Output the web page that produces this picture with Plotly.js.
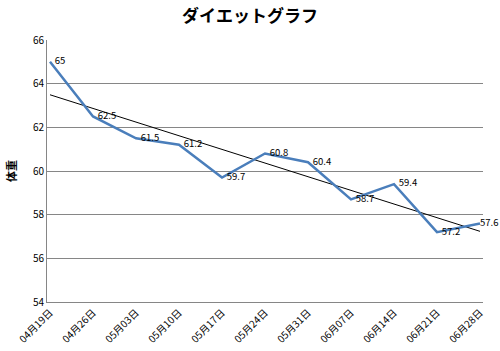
<!DOCTYPE html>
<html><head><meta charset="utf-8">
<script src="https://cdn.plot.ly/plotly-3.0.1.min.js"></script>
<style>html,body{margin:0;padding:0;background:#fff}#chart{width:500px;height:351px}</style>
</head><body><div id="chart"></div>
<script>
const dates = ["04月19日","04月26日","05月03日","05月10日","05月17日","05月24日","05月31日","06月07日","06月14日","06月21日","06月28日"];
const weights = [65, 62.5, 61.5, 61.2, 59.7, 60.8, 60.4, 58.7, 59.4, 57.2, 57.6];

const idx = dates.map((d, i) => i);
const n = weights.length;
const mx = idx.reduce((a, b) => a + b, 0) / n;
const my = weights.reduce((a, b) => a + b, 0) / n;
let sxy = 0, sxx = 0;
idx.forEach((x, i) => { sxy += (x - mx) * (weights[i] - my); sxx += (x - mx) * (x - mx); });
const slope = sxy / sxx, icpt = my - slope * mx;
const trendX = [0, n - 1];
const trendY = trendX.map(x => icpt + slope * x);

const font = "'Noto Sans CJK JP', 'Noto Sans', sans-serif";
Plotly.newPlot('chart', [
  {x: trendX, y: trendY, mode: 'lines', line: {color: '#000', width: 1}, hoverinfo: 'skip'},
  {x: idx, y: weights, mode: 'lines+text',
   text: weights.map((v, i) => (i === n - 1 ? '' : '\u2002') + v), textposition: 'middle right',
   cliponaxis: false,
   textfont: {family: font, size: 9.5, color: '#000'}, line: {color: '#4A7EBB', width: 2.5}}
], {
  width: 500, height: 351,
  margin: {l: 47, r: 17, t: 40, b: 49},
  paper_bgcolor: '#fff', plot_bgcolor: '#fff',
  showlegend: false,
  title: {text: '<b>ダイエットグラフ</b>', font: {family: font, size: 17, color: '#000'}, x: 0.5, xanchor: 'center', y: 0.955, yanchor: 'middle'},
  xaxis: {range: [-0.07, 10.07], tickvals: idx, ticktext: dates, tickangle: -45, showgrid: false, zeroline: false,
          showline: true, linecolor: '#868686', linewidth: 1, ticks: '', tickfont: {family: font, size: 10, color: '#000'}},
  yaxis: {range: [54, 66], dtick: 2, showgrid: true, gridcolor: '#868686', gridwidth: 1, zeroline: false,
          showline: true, linecolor: '#868686', linewidth: 1, ticks: '', tickfont: {family: font, size: 10, color: '#000'},
          title: {text: '<b>体重</b>', font: {family: font, size: 11, color: '#000'}, standoff: 14}}
}, {staticPlot: true});
</script></body></html>
